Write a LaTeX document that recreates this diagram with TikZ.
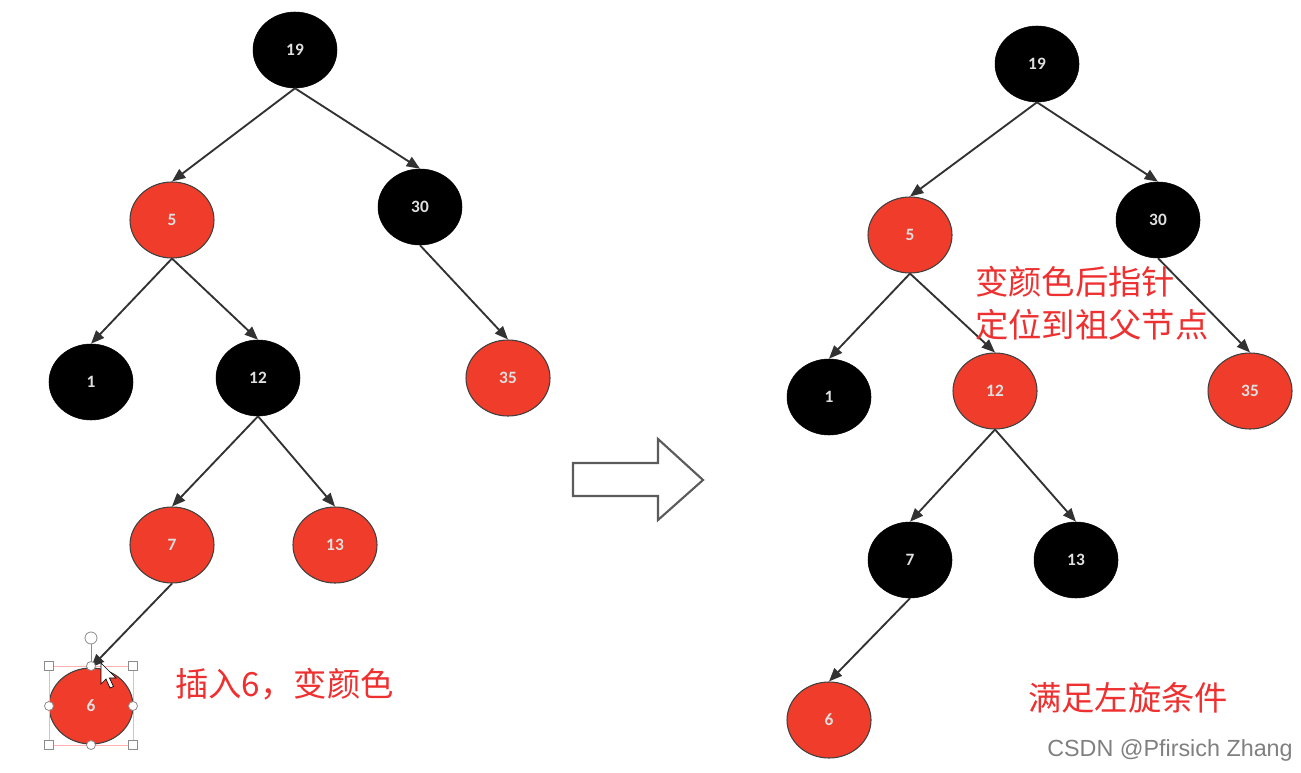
\documentclass[tikz,border=0pt]{standalone}
\usepackage{fontspec}
\setmainfont{Carlito}
\newfontfamily\cjk{Noto Sans CJK SC}
\newfontfamily\wmfont{Liberation Sans}
\usetikzlibrary{shapes.geometric,arrows.meta}
\definecolor{nodered}{RGB}{240,60,42}
\definecolor{txtred}{RGB}{238,48,48}
\definecolor{edgegray}{RGB}{50,50,50}
\tikzset{
  rb/.style={ellipse,minimum width=63pt,minimum height=57pt,inner sep=0pt,font=\bfseries\fontsize{13}{15}\selectfont,text=white!88!black},
  rednode/.style={rb,fill=nodered,draw=black!75,line width=0.8pt},
  blacknode/.style={rb,fill=black,draw=black},
  edge/.style={draw=edgegray,line width=1.4pt,-{Triangle[length=10pt,width=8pt]}},
  note/.style={text=txtred,font=\cjk\fontsize{25}{32}\selectfont,align=left,inner sep=0pt},
  handle/.style={draw=black!45,fill=white,line width=0.6pt}
}
\begin{document}
\begin{tikzpicture}[x=0.75pt,y=-0.75pt]
\useasboundingbox (0,0) rectangle (1301,773);
\fill[white] (0,0) rectangle (1301,773);
% left tree
\node[blacknode] (L19) at (295,50) {19};
\node[rednode]   (L5)  at (172,220) {5};
\node[blacknode] (L30) at (420,207) {30};
\node[blacknode] (L1)  at (91,382) {1};
\node[blacknode] (L12) at (258,378) {12};
\node[rednode]   (L35) at (508,378) {35};
\node[rednode]   (L7)  at (172,545) {7};
\node[rednode]   (L13) at (335,545) {13};
\node[rednode]   (L6)  at (91,706) {6};
\draw[edge] (L19.south) -- (L5.north);
\draw[edge] (L19.south) -- (L30.north);
\draw[edge] (L5.south) -- (L1.north);
\draw[edge] (L5.south) -- (L12.north);
\draw[edge] (L30.south) -- (L35.north);
\draw[edge] (L12.south) -- (L7.north);
\draw[edge] (L12.south) -- (L13.north);
\draw[edge] (L7.south) -- (L6.north);
% selection handles around 6
\draw[red!30,line width=0.4pt] (49,666) rectangle (133,745);
\draw[black!45,line width=0.6pt] (91,644) -- (91,666);
\draw[handle] (91,638) circle[radius=6];
\foreach \p in {(49,666),(133,666),(49,745),(133,745)}
  \draw[handle] \p ++(-4.5,-4.5) rectangle ++(9,9);
\foreach \p in {(91,666),(91,745),(49,706),(133,706)}
  \draw[handle] \p circle[radius=4.5];
% cursor
\draw[fill=white,draw=black,line width=0.5pt] (101,663) -- (101,684) -- (106,679) -- (110,688) -- (113.5,686.5) -- (109.5,678) -- (116,678) -- cycle;
\node[note,anchor=west] (t1) at (175,684) {插入6，变颜色};
% block arrow
\draw[draw=edgegray!80,line width=1.6pt,fill=white,line join=miter]
  (573,463) -- (658,463) -- (658,439) -- (703,480) -- (658,520) -- (658,496) -- (573,496) -- cycle;
% right tree
\node[blacknode] (R19) at (1037,64) {19};
\node[rednode]   (R5)  at (910,235) {5};
\node[blacknode] (R30) at (1158,220) {30};
\node[blacknode] (R1)  at (829,397) {1};
\node[rednode]   (R12) at (995,391) {12};
\node[rednode]   (R35) at (1250,391) {35};
\node[blacknode] (R7)  at (910,560) {7};
\node[blacknode] (R13) at (1076,560) {13};
\node[rednode]   (R6)  at (829,720) {6};
\draw[edge] (R19.south) -- (R5.north);
\draw[edge] (R19.south) -- (R30.north);
\draw[edge] (R5.south) -- (R1.north);
\draw[edge] (R5.south) -- (R12.north);
\draw[edge] (R30.south) -- (R35.north);
\draw[edge] (R12.south) -- (R7.north);
\draw[edge] (R12.south) -- (R13.north);
\draw[edge] (R7.south) -- (R6.north);
\node[note,anchor=north west] (t2) at (975,266) {变颜色后指针\\定位到祖父节点};
\node[note] (t3) at (1128,698) {满足左旋条件};
% watermark
\node[text=black!50,font=\wmfont\fontsize{17.5}{20}\selectfont,inner sep=0pt] (wm) at (1170,750) {CSDN @Pfirsich Zhang};
\end{tikzpicture}
\end{document}
